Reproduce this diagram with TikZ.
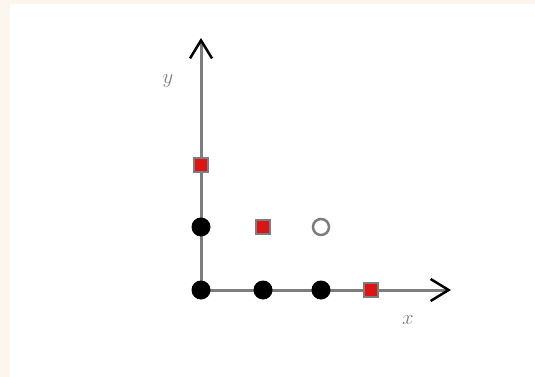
\documentclass[tikz,border=0pt]{standalone}
\usetikzlibrary{arrows.meta}
\definecolor{cream}{RGB}{253,246,238}
\definecolor{axisgray}{RGB}{125,125,125}
\definecolor{ptred}{RGB}{220,20,20}
\tikzset{
  axis/.style={draw=axisgray,line width=3pt,-{Straight Barb[length=18pt,width=22pt,line width=2.5pt,black]}},
  blackdot/.style={circle,fill=black,minimum size=19pt,inner sep=0pt},
  redsq/.style={rectangle,fill=ptred,draw=axisgray,line width=2pt,minimum size=14pt,inner sep=0pt},
  opendot/.style={circle,fill=white,draw=axisgray,line width=2.5pt,minimum size=16pt,inner sep=0pt},
  axlabel/.style={text=gray,font=\fontsize{21}{24}\selectfont}
}
\begin{document}
\begin{tikzpicture}[x=1pt,y=-1pt]
\useasboundingbox (0,0) rectangle (535,377);
\fill[cream] (0,0) rectangle (535,377);
\fill[white] (10,4) rectangle (535,377);
\coordinate (O) at (201,290);
\coordinate (xend) at (451,290);
\coordinate (yend) at (201,38);
\draw[axis] (O) -- (xend);
\draw[axis] (O) -- (yend);
\node[axlabel] (xl) at (408,320) {$x$};
\node[axlabel] (yl) at (168,81) {$y$};
\node[blackdot] (p00) at (201,290) {};
\node[blackdot] (p10) at (263,290) {};
\node[blackdot] (p20) at (321,290) {};
\node[redsq] (p30) at (371,290) {};
\node[blackdot] (p01) at (201,227) {};
\node[redsq] (p11) at (263,227) {};
\node[opendot] (p21) at (321,227) {};
\node[redsq] (p02) at (201,165) {};
\end{tikzpicture}
\end{document}
